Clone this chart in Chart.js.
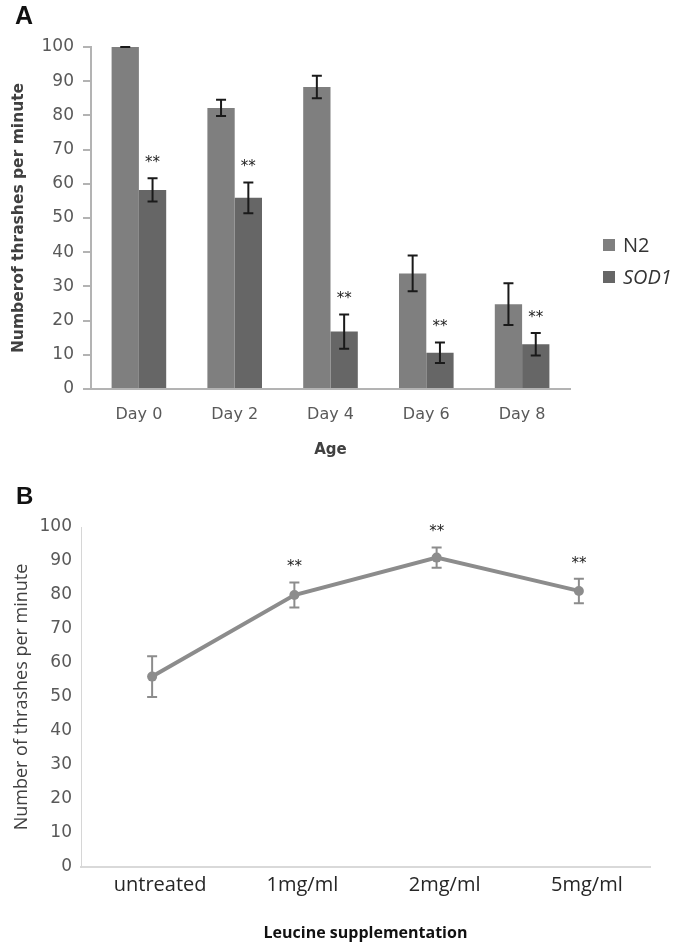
<!DOCTYPE html>
<html>
<head>
<meta charset="utf-8">
<script src="https://cdn.jsdelivr.net/npm/chart.js@4.4.0/dist/chart.umd.min.js"></script>
<style>
  body { margin: 0; background: #fff; }
  #wrap { position: relative; width: 683px; height: 948px; }
  canvas { position: absolute; left: 0; }
  #chartA { top: 0; }
  #chartB { top: 470px; }
  .panel { position: absolute; font-family: "Liberation Sans", Arial, sans-serif; font-weight: bold; color: #111; }
  #labelA { left: 15px; top: 1px; font-size: 25px; }
  #labelB { left: 16px; top: 482px; font-size: 24px; }
</style>
</head>
<body>
<div id="wrap">
  <canvas id="chartA" width="683" height="470"></canvas>
  <canvas id="chartB" width="683" height="478"></canvas>
  <div class="panel" id="labelA">A</div>
  <div class="panel" id="labelB">B</div>
</div>
<script>
// Panel A data
const ageDays = ['Day 0', 'Day 2', 'Day 4', 'Day 6', 'Day 8'];
const n2Thrashes = [100, 82.2, 88.3, 33.8, 24.8];
const n2Errors = [0, 2.4, 3.3, 5.2, 6.1];
const sod1Thrashes = [58.2, 55.9, 16.8, 10.6, 13.1];
const sod1Errors = [3.4, 4.5, 5.0, 3.0, 3.3];
const sod1Stars = ['**', '**', '**', '**', '**'];

// Panel B data
const leucineDoses = ['untreated', '1mg/ml', '2mg/ml', '5mg/ml'];
const leucineThrashes = [56, 80, 91, 81.2];
const leucineErrors = [6, 3.7, 3, 3.6];
const leucineStars = ['', '**', '**', '**'];

// Draw error bars and significance stars for datasets that carry them
const errorBarPlugin = {
    id: 'errorBars',
    afterDatasetsDraw(chart) {
        const ctx = chart.ctx;
        const y = chart.scales.y;
        chart.data.datasets.forEach((ds, i) => {
            if (!ds.errors) return;
            const meta = chart.getDatasetMeta(i);
            ctx.save();
            ctx.strokeStyle = ds.errorColor;
            ctx.lineWidth = 2;
            meta.data.forEach((el, j) => {
                const v = ds.data[j], e = ds.errors[j];
                const top = y.getPixelForValue(v + e);
                const bot = y.getPixelForValue(v - e);
                ctx.beginPath();
                ctx.moveTo(el.x, top); ctx.lineTo(el.x, bot);
                ctx.moveTo(el.x - 5, top); ctx.lineTo(el.x + 5, top);
                ctx.moveTo(el.x - 5, bot); ctx.lineTo(el.x + 5, bot);
                ctx.stroke();
                if (ds.stars && ds.stars[j]) {
                    ctx.fillStyle = '#222';
                    ctx.font = '15px "DejaVu Sans"';
                    ctx.textAlign = 'center';
                    ctx.textBaseline = 'middle';
                    ctx.fillText(ds.stars[j], el.x, top - ds.starGap);
                }
            });
            ctx.restore();
        });
    }
};

// Legend on the right of panel A (SOD1 in italics)
const legendA = {
    id: 'legendA',
    afterDraw(chart) {
        const ctx = chart.ctx;
        ctx.save();
        chart.data.datasets.forEach((ds, i) => {
            const yc = 245 + i * 32;
            ctx.fillStyle = ds.backgroundColor;
            ctx.fillRect(603, yc - 6, 12, 12);
            ctx.fillStyle = '#333';
            ctx.font = (i === 1 ? 'italic ' : '') + '20px "Open Sans"';
            ctx.textBaseline = 'middle';
            ctx.fillText(ds.label, 623, yc + 1);
        });
        ctx.restore();
    }
};

function initAgeChart() {
    const ctx = document.getElementById('chartA').getContext('2d');
    new Chart(ctx, {
        type: 'bar',
        data: {
            labels: ageDays,
            datasets: [{
                label: 'N2',
                data: n2Thrashes,
                errors: n2Errors,
                errorColor: '#1a1a1a',
                backgroundColor: '#7f7f7f',
                categoryPercentage: 0.57,
                barPercentage: 1.0
            }, {
                label: 'SOD1',
                data: sod1Thrashes,
                errors: sod1Errors,
                stars: sod1Stars,
                starGap: 15,
                errorColor: '#1a1a1a',
                backgroundColor: '#666666',
                categoryPercentage: 0.57,
                barPercentage: 1.0
            }]
        },
        options: {
            responsive: false,
            animation: false,
            layout: { padding: { left: 0, right: 113, top: 47, bottom: 0 } },
            plugins: { legend: { display: false }, tooltip: { enabled: false } },
            scales: {
                x: {
                    afterFit: s => { s.height = 81; },
                    grid: { display: false, drawTicks: false },
                    border: { display: true, color: '#b3b3b3', width: 2 },
                    ticks: { color: '#595959', padding: 16, font: { family: 'DejaVu Sans', size: 16 } },
                    title: { display: true, text: 'Age', color: '#404040', padding: { top: 0, bottom: 11 },
                             font: { family: 'DejaVu Sans', size: 15, weight: 'bold' } }
                },
                y: {
                    min: 0, max: 100,
                    afterFit: s => { s.width = 91; },
                    grid: { drawOnChartArea: false, drawTicks: true, tickLength: 8, color: '#b3b3b3', lineWidth: 2 },
                    border: { display: true, color: '#b3b3b3', width: 2 },
                    ticks: { stepSize: 10, color: '#595959', padding: 9, font: { family: 'DejaVu Sans', size: 17 } },
                    title: { display: true, text: 'Numberof thrashes per minute', color: '#404040', padding: { top: 10, bottom: 0 },
                             font: { family: 'DejaVu Sans', size: 15.5, weight: 'bold' } }
                }
            }
        },
        plugins: [errorBarPlugin, legendA]
    });
}

function initLeucineChart() {
    const ctx = document.getElementById('chartB').getContext('2d');
    new Chart(ctx, {
        type: 'line',
        data: {
            labels: leucineDoses,
            datasets: [{
                label: 'Leucine',
                data: leucineThrashes,
                errors: leucineErrors,
                stars: leucineStars,
                starGap: 15,
                errorColor: '#8c8c8c',
                borderColor: '#8c8c8c',
                backgroundColor: '#8c8c8c',
                borderWidth: 4,
                pointRadius: 5,
                pointBorderWidth: 0,
                tension: 0
            }]
        },
        options: {
            responsive: false,
            animation: false,
            layout: { padding: { left: 0, right: 33, top: 57, bottom: 0 } },
            plugins: { legend: { display: false }, tooltip: { enabled: false } },
            scales: {
                x: {
                    offset: true,
                    afterFit: s => { s.height = 81; },
                    grid: { display: false, drawTicks: false },
                    border: { display: true, color: '#d9d9d9', width: 2 },
                    ticks: { color: '#262626', padding: 6, labelOffset: 8, font: { family: 'Open Sans', size: 20 } },
                    title: { display: true, text: 'Leucine supplementation', color: '#111', padding: { top: 0, bottom: 5 },
                             font: { family: 'Open Sans', size: 16, weight: 'bold' } }
                },
                y: {
                    min: 0, max: 100,
                    afterFit: s => { s.width = 81; },
                    grid: { display: false, drawTicks: false },
                    border: { display: true, color: '#d6d6d6', width: 1, dash: [1, 2] },
                    ticks: { stepSize: 10, color: '#595959', padding: 9, font: { family: 'DejaVu Sans', size: 17 } },
                    title: { display: true, text: 'Number of thrashes per minute', color: '#404040', padding: { top: 11, bottom: 0 },
                             font: { family: 'Open Sans', size: 18 } }
                }
            }
        },
        plugins: [errorBarPlugin]
    });
}

window.onload = function() {
    initAgeChart();
    initLeucineChart();
};
</script>
</body>
</html>
